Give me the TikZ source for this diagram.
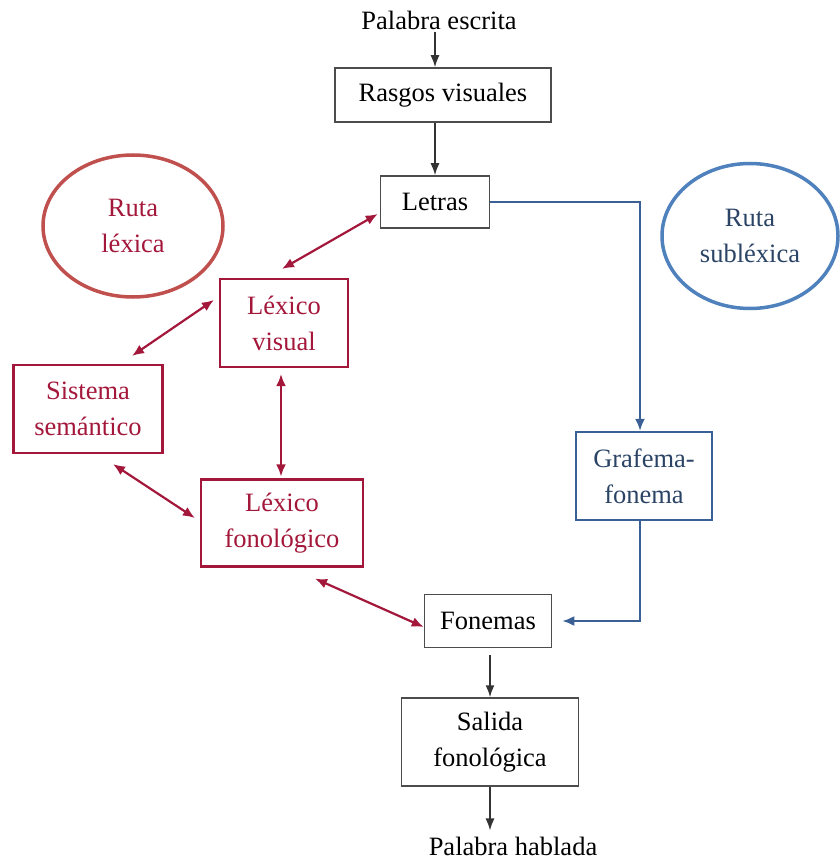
\documentclass[tikz,border=0pt]{standalone}
\usepackage{fontspec}
\setmainfont{Liberation Serif}
\usepackage{xcolor}
\usetikzlibrary{shapes,arrows.meta,calc}
\definecolor{rojoTexto}{HTML}{A3173A}
\definecolor{rojoElipse}{HTML}{C0504D}
\definecolor{azulElipse}{HTML}{4F81BD}
\definecolor{azulLinea}{HTML}{3A6096}
\definecolor{azulTexto}{HTML}{2B4466}
\tikzstyle{tsText} = [
    text=black,
    font=\fontsize{26.5}{36}\selectfont,
    align=center
]
\tikzstyle{tsPlain} = [
    tsText,
    inner sep=2pt
]
\tikzstyle{tsRectangle} = [
    rectangle,
    tsText,
    inner sep=0pt,
    draw=black!70,
    line width=1.5pt]
\tikzstyle{tsRedRectangle} = [
    tsRectangle,
    text=rojoTexto,
    draw=rojoTexto,
    line width=2.2pt]
\tikzstyle{tsBlueRectangle} = [
    tsRectangle,
    text=azulTexto,
    draw=azulLinea,
    line width=2.2pt]
\tikzstyle{tsEllipse} = [
    ellipse,
    tsText,
    inner sep=0pt,
    line width=3.5pt]
\tikzstyle{tsArrow} = [
    -{Latex[length=12pt,width=9pt]},
    line width=1.6pt,
    black!80]
\tikzstyle{tsRedArrow} = [
    {Latex[length=12pt,width=10pt]}-{Latex[length=12pt,width=10pt]},
    line width=2.2pt,
    rojoTexto]
\tikzstyle{tsBlueArrow} = [
    -{Latex[length=12pt,width=10pt]},
    line width=2.2pt,
    azulLinea]

\begin{document}
\begin{tikzpicture}[x=1pt, y=-1pt]

        \useasboundingbox (0,0) rectangle (839,861);

        % ruta central
        \node[tsPlain] (escrita) at (439,20) {Palabra escrita};
        \node[tsRectangle, minimum width=216pt, minimum height=54pt] (rasgos) at (443,95) {Rasgos visuales};
        \node[tsRectangle, minimum width=109pt, minimum height=52pt] (letras) at (435,202) {Letras};
        \node[tsRectangle, minimum width=127pt, minimum height=53pt] (fonemas) at (488,621) {Fonemas};
        \node[tsRectangle, minimum width=177pt, minimum height=88pt] (salida) at (490,742) {Salida\\fonol\'ogica};
        \node[tsPlain] (hablada) at (513,846) {Palabra hablada};

        % ruta lexica
        \node[tsEllipse, draw=rojoElipse, text=rojoTexto, minimum width=180pt, minimum height=142pt] (rutaLex) at (133,226) {Ruta\\l\'exica};
        \node[tsRedRectangle, minimum width=128pt, minimum height=88pt] (lexVisual) at (284,323) {L\'exico\\visual};
        \node[tsRedRectangle, minimum width=149pt, minimum height=88pt] (semantico) at (88,409) {Sistema\\sem\'antico};
        \node[tsRedRectangle, minimum width=162pt, minimum height=87pt] (lexFono) at (282,523) {L\'exico\\fonol\'ogico};

        % ruta sublexica
        \node[tsEllipse, draw=azulElipse, text=azulTexto, minimum width=176pt, minimum height=145pt] (rutaSub) at (750,236) {Ruta\\subl\'exica};
        \node[tsBlueRectangle, minimum width=136pt, minimum height=88pt] (grafema) at (644,476) {Grafema-\\fonema};

        % flechas negras
        \draw[tsArrow] (escrita.south -| letras) -- (rasgos.north -| letras);
        \draw[tsArrow] (rasgos.south -| letras) -- (letras.north);
        \draw[tsArrow] ($(fonemas.south -| salida)+(0,7)$) -- (salida.north);
        \draw[tsArrow] (salida.south) -- ($(hablada.north -| salida)+(0,-4)$);

        % flechas rojas
        \draw[tsRedArrow] ($(letras.west)+(-2,12)$) -- ($(lexVisual.north)+(-2,-9)$);
        \draw[tsRedArrow] ($(lexVisual.west)+(-5,-23)$) -- ($(semantico.north)+(44,-8)$);
        \draw[tsRedArrow] ($(lexVisual.south)+(-3,6)$) -- ($(lexFono.north)+(-1,-2)$);
        \draw[tsRedArrow] ($(semantico.south)+(25,10)$) -- ($(lexFono.west)+(-5,-5)$);
        \draw[tsRedArrow] ($(lexFono.south)+(33,11)$) -- ($(fonemas.west)+(0,6)$);

        % flechas azules
        \draw[tsBlueArrow] (letras.east) -| ($(grafema.north)+(-4,0)$);
        \draw[tsBlueArrow] ($(grafema.south)+(-4,0)$) |- ($(fonemas.east)+(10,0)$);

\end{tikzpicture}
\end{document}
